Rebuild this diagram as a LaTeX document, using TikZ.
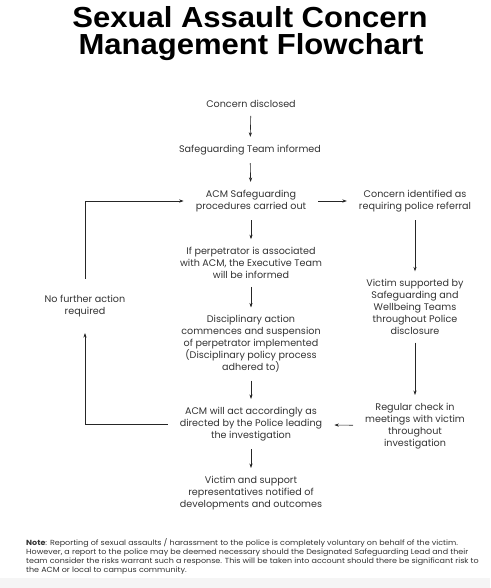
\documentclass[tikz,border=0pt]{standalone}
\usepackage{fontspec}
\setmainfont{Poppins}
\newfontfamily\titlefont[FakeStretch=1.07]{Liberation Sans}
\newfontfamily\notefont[FakeStretch=1.08]{Poppins}
\usetikzlibrary{arrows.meta}
\begin{document}
\begin{tikzpicture}[x=1pt,y=-1pt,
  txt/.style={align=center,inner xsep=12pt,inner ysep=8pt,font=\fontsize{9.6}{11.9}\selectfont,text=black!80},
  loopnode/.style={txt,inner ysep=16pt},
  ttl/.style={anchor=base,inner sep=0pt,font=\titlefont\bfseries\fontsize{29}{29}\selectfont},
  arr/.style={draw=black!85,line width=0.6pt,-{Stealth[length=4.5pt,width=3.2pt]}}]
\useasboundingbox (0,0) rectangle (490,588);
\fill[black!4] (0,578) rectangle (490,588);
\node[ttl] (title1) at (250,28) {Sexual Assault Concern};
\node[ttl] (title2) at (251,55) {Management Flowchart};
\node[txt] (cd) at (251,104) {Concern disclosed};
\node[txt] (sti) at (250,150) {Safeguarding Team informed};
\node[txt] (acm) at (251,201) {ACM Safeguarding\\procedures carried out};
\node[txt] (cid) at (415,201) {Concern identified as\\requiring police referral};
\node[txt] (perp) at (251,263) {If perpetrator is associated\\with ACM, the Executive Team\\will be informed};
\node[txt] (disc) at (251,344) {Disciplinary action\\commences and suspension\\of perpetrator implemented\\(Disciplinary policy process\\adhered to)};
\node[txt] (vs) at (415,307) {Victim supported by\\Safeguarding and\\Wellbeing Teams\\throughout Police\\disclosure};
\node[txt] (reg) at (415,426) {Regular check in\\meetings with victim\\throughout\\investigation};
\node[txt] (act) at (251,424) {ACM will act accordingly as\\directed by the Police leading\\the investigation};
\node[txt] (notif) at (251,493) {Victim and support\\representatives notified of\\developments and outcomes};
\node[loopnode] (nfa) at (85,306) {No further action\\required};
\node[anchor=north west,align=left,inner sep=0pt,font=\notefont\fontsize{7.4}{9}\selectfont,text=black!80] (note) at (26,538) {\textbf{Note}: Reporting of sexual assaults / harassment to the police is completely voluntary on behalf of the victim.\\However, a report to the police may be deemed necessary should the Designated Safeguarding Lead and their\\team consider the risks warrant such a response. This will be taken into account should there be significant risk to\\the ACM or local to campus community.};
\draw[arr] (cd) -- (sti);
\draw[arr] (sti) -- (acm);
\draw[arr] (acm) -- (cid);
\draw[arr] (acm) -- (perp);
\draw[arr] (perp) -- (disc);
\draw[arr] (disc) -- (act);
\draw[arr] (act) -- (notif);
\draw[arr] (cid) -- (vs);
\draw[arr] (vs) -- (reg);
\draw[arr] (reg) -- (act);
\draw[arr] (act.west) -| (nfa.south);
\draw[arr] (nfa.north) |- (acm.west);
\end{tikzpicture}
\end{document}
